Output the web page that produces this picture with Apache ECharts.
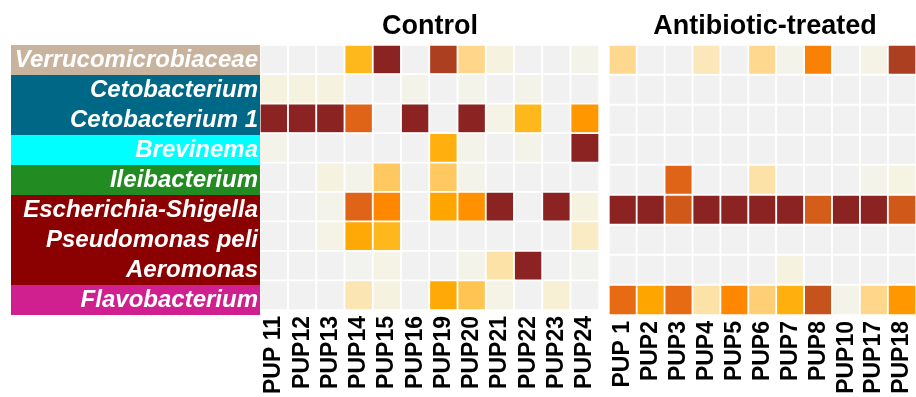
<!DOCTYPE html>
<html>
<head>
<meta charset="utf-8">
<script src="https://cdn.jsdelivr.net/npm/echarts@6/dist/echarts.min.js"></script>
<style>
    html, body {margin: 0; padding: 0; background: #fff;}
    #heatmap {width: 916px; height: 397px;}
</style>
</head>
<body>
<div id="heatmap"></div>
<script>
// taxa rows, top to bottom
const taxa = ['Verrucomicrobiaceae', 'Cetobacterium', 'Cetobacterium 1', 'Brevinema', 'Ileibacterium',
    'Escherichia-Shigella', 'Pseudomonas peli', 'Aeromonas', 'Flavobacterium'];
const taxaColors = ['#c8b39e', '#006887', '#006887', '#00ffff', '#228b22',
    '#8b0000', '#8b0000', '#8b0000', '#d0208f'];

const controlPups = ['PUP 11', 'PUP12', 'PUP13', 'PUP14', 'PUP15', 'PUP16', 'PUP19', 'PUP20', 'PUP21', 'PUP22', 'PUP23', 'PUP24'];
const treatedPups = ['PUP 1', 'PUP2', 'PUP3', 'PUP4', 'PUP5', 'PUP6', 'PUP7', 'PUP8', 'PUP10', 'PUP17', 'PUP18'];

// abundance level per taxon (rows) and pup (columns), 0 = absent .. 11 = highest
const controlValues = [
    [0, 0, 0, 6, 11, 0, 10, 4, 2, 0, 0, 1],
    [2, 2, 2, 0, 0, 1, 0, 1, 0, 1, 0, 0],
    [11, 11, 11, 9, 0, 11, 0, 11, 1.5, 6, 0, 7.5],
    [1, 0, 0, 0, 0, 0, 6.5, 1, 0, 1, 0, 11],
    [0, 0, 2, 1, 5, 0, 5, 1, 0, 0, 0, 0],
    [0, 0, 1, 9, 8, 0, 7, 7.7, 11, 0, 11, 2],
    [0, 0, 1.5, 6.8, 6, 0, 0, 0, 0, 0, 0, 2.5],
    [0, 0, 0, 0.5, 1.5, 0, 0, 1, 3, 11, 0, 0.5],
    [0, 0, 0, 2.8, 2, 0, 6.8, 5.2, 1.5, 0, 2.2, 0]
];
const treatedValues = [
    [3.8, 0, 0, 2.7, 0, 3.8, 1, 8.2, 0, 1.5, 10],
    [0, 0, 0, 0, 0, 0, 0, 0, 0, 0, 0],
    [0, 0, 0, 0, 0, 0, 0, 0, 0, 0, 0],
    [0, 0, 0, 0, 0, 0, 0, 0, 0, 0, 0],
    [0, 0, 9, 0, 0, 3, 0, 0, 0, 1, 1.8],
    [11, 11, 9.3, 11, 11, 11, 11, 9.2, 11, 11, 9.3],
    [0, 0, 0, 0, 0, 0, 0, 0, 0, 0, 0],
    [0, 0, 0, 0, 0, 0, 2, 0, 0, 0, 0],
    [8.8, 7, 8.8, 3, 8, 4.5, 6.5, 9.5, 1, 4, 7.5]
];

const palette = ['#f1f1f1', '#f3f3ea', '#f5f3df', '#fde2a8', '#ffd68a', '#ffc860',
    '#ffb81c', '#ffa500', '#ff8800', '#e06418', '#ab3f20', '#8b2323'];

const font = '"Liberation Sans", Arial, sans-serif';

const toCells = (rows) => {
    let cells = [];
    rows.forEach((row, y) => row.forEach((v, x) => cells.push([x, y, v])));
    return cells;
};

const gridTop = 45;
const gridHeight = 270;

const xAxisFor = (gridIndex, cats) => ({
    type: 'category',
    gridIndex: gridIndex,
    data: cats,
    axisLine: {show: false},
    axisTick: {show: false},
    splitLine: {show: false},
    axisLabel: {
        rotate: 90,
        margin: 6,
        color: '#000',
        fontFamily: font,
        fontWeight: 'bold',
        fontSize: 23,
        interval: 0
    }
});

const yAxisFor = (gridIndex) => ({
    type: 'category',
    gridIndex: gridIndex,
    data: taxa,
    inverse: true,
    axisLine: {show: false},
    axisTick: {show: false},
    axisLabel: {show: false},
    splitLine: {show: false}
});

const options = {
    animation: false,
    title: [
        {text: 'Control', left: 425, top: 8, textAlign: 'center',
            textStyle: {fontFamily: font, fontWeight: 'bold', fontSize: 27, color: '#000'}},
        {text: 'Antibiotic-treated', left: 760, top: 8, textAlign: 'center',
            textStyle: {fontFamily: font, fontWeight: 'bold', fontSize: 27, color: '#000'}}
    ],
    grid: [
        {left: 11, width: 249, top: gridTop, height: gridHeight},
        {left: 260, width: 339, top: gridTop, height: gridHeight},
        {left: 609, width: 310, top: gridTop, height: gridHeight}
    ],
    xAxis: [
        {type: 'value', gridIndex: 0, min: 0, max: 1, show: false},
        xAxisFor(1, controlPups),
        xAxisFor(2, treatedPups)
    ],
    yAxis: [
        yAxisFor(0),
        yAxisFor(1),
        yAxisFor(2)
    ],
    visualMap: {
        show: false,
        type: 'continuous',
        min: 0,
        max: 11,
        seriesIndex: [1, 2],
        inRange: {color: palette}
    },
    series: [
        {
            type: 'bar',
            xAxisIndex: 0,
            yAxisIndex: 0,
            barWidth: '100%',
            data: taxa.map((t, i) => ({value: 1, itemStyle: {color: taxaColors[i]}})),
            label: {
                show: true,
                position: 'insideRight',
                distance: 2,
                formatter: '{b}',
                color: '#fff',
                fontFamily: font,
                fontStyle: 'italic',
                fontWeight: 'bold',
                fontSize: 24
            }
        },
        {
            type: 'heatmap',
            xAxisIndex: 1,
            yAxisIndex: 1,
            data: toCells(controlValues),
            itemStyle: {borderColor: '#fff', borderWidth: 1.8}
        },
        {
            type: 'heatmap',
            xAxisIndex: 2,
            yAxisIndex: 2,
            data: toCells(treatedValues),
            itemStyle: {borderColor: '#fff', borderWidth: 1.8}
        }
    ]
};

const chart = echarts.init(document.getElementById('heatmap'));
chart.setOption(options);
</script>
</body>
</html>
